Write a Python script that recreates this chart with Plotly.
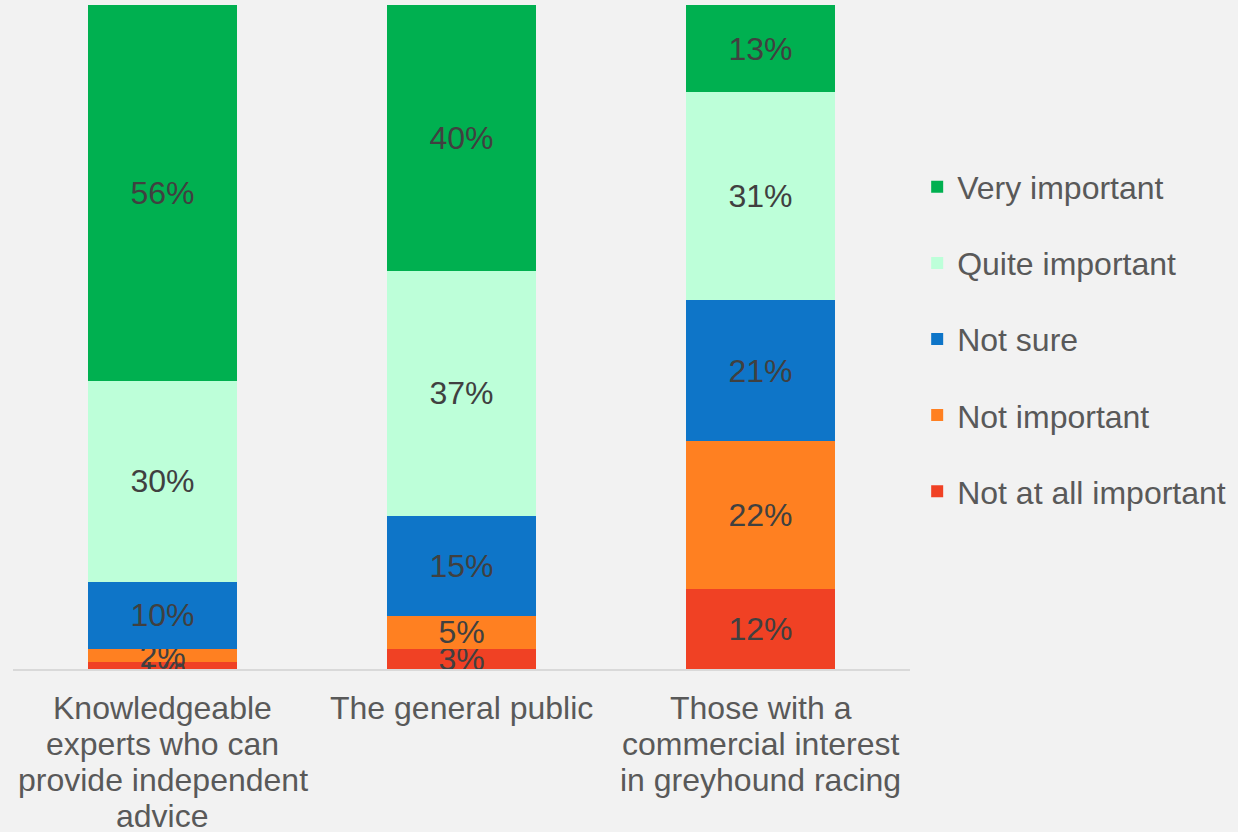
import plotly.graph_objects as go

categories = [
    "Knowledgeable<br>experts who can<br>provide independent<br>advice",
    "The general public",
    "Those with a<br>commercial interest<br>in greyhound racing",
]
# stacked bottom to top
series_names = ["Not at all important", "Not important", "Not sure", "Quite important", "Very important"]
not_at_all = [1, 3, 12]
not_important = [2, 5, 22]
not_sure = [10, 15, 21]
quite = [30, 37, 31]
very = [56, 40, 13]
series_values = [not_at_all, not_important, not_sure, quite, very]
colors = ["#f04124", "#ff8021", "#0e75c8", "#bdffd9", "#00b050"]

FONT = "Liberation Sans, Arial, sans-serif"

fig = go.Figure()
for i, (name, vals, col) in enumerate(zip(series_names, series_values, colors)):
    fig.add_trace(go.Bar(
        x=categories, y=vals, name=name,
        marker=dict(color=col, line=dict(width=0)),
        text=[f"{v}%" for v in vals],
        textposition="inside", insidetextanchor="middle", textangle=0,
        constraintext="none",
        textfont=dict(family=FONT, size=32, color="#404040"),
        legendgroup=name, legendrank=100 - i,
        hoverinfo="skip",
    ))

# category labels, one line each, with the tight line spacing of the reference
for cat in categories:
    for j, line in enumerate(cat.split("<br>")):
        fig.add_annotation(
            x=cat, y=0, xref="x", yref="y", text=line, showarrow=False,
            xanchor="center", yanchor="middle", yshift=-(39 + 36 * j),
            font=dict(family=FONT, size=32, color="#595959"),
        )

fig.update_layout(
    barmode="stack", barnorm="percent", bargap=0.5,
    width=1238, height=832,
    margin=dict(l=13, r=328, t=5, b=163),
    paper_bgcolor="#f2f2f2", plot_bgcolor="#f2f2f2",
    font=dict(family=FONT, size=32, color="#595959"),
    showlegend=True,
    legend=dict(
        x=1.008, xanchor="left", y=0.497, yanchor="middle",
        traceorder="grouped", tracegroupgap=31.5,
        font=dict(family=FONT, size=32, color="#595959"), bgcolor="rgba(0,0,0,0)",
        itemclick=False, itemdoubleclick=False,
    ),
    xaxis=dict(showline=True, linecolor="#d9d9d9", linewidth=2, ticks="",
               showticklabels=False, showgrid=False),
    yaxis=dict(range=[0, 100], visible=False, showgrid=False, zeroline=False),
)

fig.write_html("out.html", config={"displayModeBar": False},
               post_script="document.body.style.margin='0';document.body.style.overflow='hidden';")
